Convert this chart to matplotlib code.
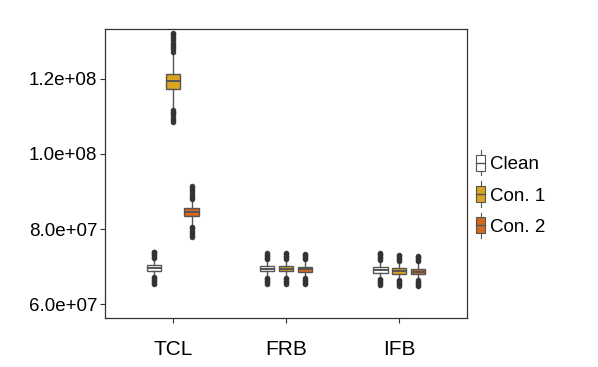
import matplotlib
matplotlib.use("Agg")
import matplotlib.pyplot as plt
from matplotlib.patches import Rectangle
from matplotlib.lines import Line2D
from matplotlib.legend_handler import HandlerBase

plt.rcParams['font.family'] = ['Liberation Sans', 'DejaVu Sans']

categories = ['TCL', 'FRB', 'IFB']
series = ['Clean', 'Con. 1', 'Con. 2']
colors = ['#FFFFFF', '#DAA520', '#D2691E']
y_ticks = [6.0e7, 8.0e7, 1.0e8, 1.2e8]
y_labels = ['6.0e+07', '8.0e+07', '1.0e+08', '1.2e+08']

# box stats: (whislo, q1, med, q3, whishi)
box_stats = {
    ('TCL', 'Clean'): (6.74e7, 6.88e7, 6.95e7, 7.03e7, 7.19e7),
    ('TCL', 'Con. 1'): (1.120e8, 1.174e8, 1.194e8, 1.214e8, 1.269e8),
    ('TCL', 'Con. 2'): (8.08e7, 8.34e7, 8.45e7, 8.56e7, 8.76e7),
    ('FRB', 'Clean'): (6.73e7, 6.87e7, 6.94e7, 7.01e7, 7.17e7),
    ('FRB', 'Con. 1'): (6.74e7, 6.87e7, 6.94e7, 7.01e7, 7.18e7),
    ('FRB', 'Con. 2'): (6.72e7, 6.86e7, 6.93e7, 7.00e7, 7.16e7),
    ('IFB', 'Clean'): (6.71e7, 6.84e7, 6.91e7, 6.98e7, 7.15e7),
    ('IFB', 'Con. 1'): (6.68e7, 6.81e7, 6.88e7, 6.95e7, 7.13e7),
    ('IFB', 'Con. 2'): (6.66e7, 6.79e7, 6.86e7, 6.93e7, 7.11e7),
}

# outliers (low side, high side)
outliers = {
    ('TCL', 'Clean'): ([6.53e7, 6.57e7, 6.61e7, 6.65e7, 6.69e7, 6.72e7],
                       [7.22e7, 7.26e7, 7.30e7, 7.34e7, 7.38e7, 7.40e7]),
    ('TCL', 'Con. 1'): ([1.086e8, 1.091e8, 1.097e8, 1.103e8, 1.108e8, 1.113e8, 1.117e8],
                        [1.273e8, 1.279e8, 1.285e8, 1.291e8, 1.297e8, 1.303e8,
                         1.309e8, 1.315e8, 1.320e8, 1.323e8]),
    ('TCL', 'Con. 2'): ([7.78e7, 7.84e7, 7.90e7, 7.96e7, 8.02e7, 8.06e7],
                        [8.80e7, 8.86e7, 8.92e7, 8.98e7, 9.04e7, 9.10e7, 9.14e7]),
    ('FRB', 'Clean'): ([6.54e7, 6.58e7, 6.62e7, 6.66e7, 6.70e7],
                       [7.20e7, 7.24e7, 7.28e7, 7.32e7, 7.36e7]),
    ('FRB', 'Con. 1'): ([6.54e7, 6.58e7, 6.62e7, 6.66e7, 6.70e7],
                        [7.21e7, 7.25e7, 7.29e7, 7.33e7, 7.37e7]),
    ('FRB', 'Con. 2'): ([6.53e7, 6.57e7, 6.61e7, 6.65e7, 6.69e7],
                        [7.19e7, 7.23e7, 7.27e7, 7.31e7, 7.34e7]),
    ('IFB', 'Clean'): ([6.51e7, 6.55e7, 6.59e7, 6.63e7, 6.67e7],
                       [7.18e7, 7.22e7, 7.26e7, 7.30e7, 7.34e7, 7.37e7]),
    ('IFB', 'Con. 1'): ([6.49e7, 6.53e7, 6.57e7, 6.61e7, 6.65e7],
                        [7.16e7, 7.20e7, 7.24e7, 7.28e7, 7.32e7]),
    ('IFB', 'Con. 2'): ([6.47e7, 6.51e7, 6.55e7, 6.59e7, 6.63e7],
                        [7.14e7, 7.18e7, 7.22e7, 7.26e7, 7.29e7]),
}

edge = '#555555'
dodge = 0.167
box_w = 0.13

fig = plt.figure(figsize=(5.98, 3.67), dpi=100)
ax = fig.add_axes([105 / 598, 1 - 318 / 367, 362 / 598, 289 / 367])

for gi, cat in enumerate(categories):
    for si, s in enumerate(series):
        lo, q1, med, q3, hi = box_stats[(cat, s)]
        low_out, high_out = outliers[(cat, s)]
        st = dict(whislo=lo, q1=q1, med=med, q3=q3, whishi=hi,
                  fliers=low_out + high_out)
        pos = gi + 1 + (si - 1) * dodge
        ax.bxp([st], positions=[pos], widths=box_w, patch_artist=True,
               showcaps=False,
               boxprops=dict(facecolor=colors[si], edgecolor=edge, linewidth=1.0),
               medianprops=dict(color=edge, linewidth=1.4),
               whiskerprops=dict(color=edge, linewidth=1.0),
               flierprops=dict(marker='o', markersize=3, markerfacecolor='#333333',
                               markeredgecolor='#333333', alpha=0.9))

ax.set_xlim(0.4, 3.6)
ax.set_ylim(5.63e7, 1.333e8)
ax.set_xticks([1, 2, 3])
ax.set_xticklabels(categories, fontsize=15)
ax.set_yticks(y_ticks)
ax.set_yticklabels(y_labels, fontsize=13.5)
ax.tick_params(length=3.5, width=0.8, color='#333333', labelcolor='black', pad=2)
ax.tick_params(axis='x', pad=12)
for sp in ax.spines.values():
    sp.set_color('#333333')
    sp.set_linewidth(0.9)


class BoxKey(HandlerBase):
    def create_artists(self, legend, orig, xd, yd, width, height, fontsize, trans):
        cx = xd + width / 2
        w = width * 0.9
        h = height * 1.2
        y0 = yd + height / 2 - h / 2
        whisk = Line2D([cx, cx], [y0 - h * 0.3, y0 + h * 1.3], color=edge,
                       linewidth=0.8, transform=trans)
        rect = Rectangle((cx - w / 2, y0), w, h, facecolor=orig.get_facecolor(),
                         edgecolor=edge, linewidth=0.8, transform=trans)
        mid = Line2D([cx - w / 2, cx + w / 2], [y0 + h / 2, y0 + h / 2], color=edge,
                     linewidth=1.0, transform=trans)
        return [whisk, rect, mid]


handles = [Rectangle((0, 0), 1, 1, facecolor=c) for c in colors]
fig.legend(handles, series, handler_map={Rectangle: BoxKey()},
           loc='center left', bbox_to_anchor=(476 / 598, 1 - 196 / 367),
           frameon=False, fontsize=13.5, handlelength=0.5, handletextpad=0.25,
           labelspacing=0.75, borderaxespad=0, borderpad=0)

fig.savefig('out.png', dpi=100)
